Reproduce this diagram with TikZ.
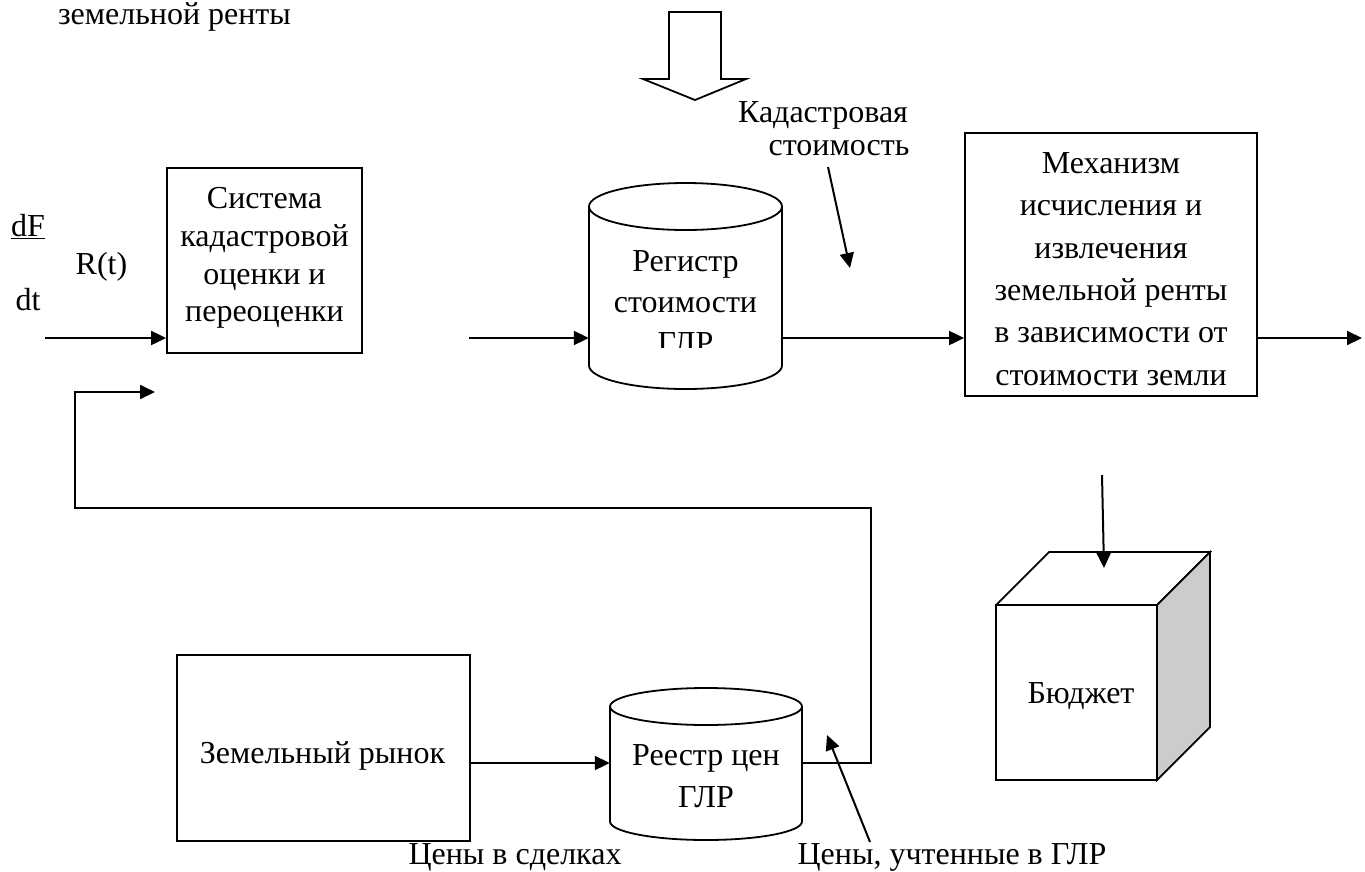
\documentclass[tikz,border=0pt]{standalone}
\usepackage{fontspec}
\setmainfont{Liberation Serif}
\usetikzlibrary{arrows.meta}
\begin{document}
\begin{tikzpicture}[x=1pt,y=-1pt,
  ln/.style={line width=1.8pt},
  arr/.style={line width=2pt,-{Triangle[length=15pt,width=14pt]}},
  boxnode/.style={draw,line width=1.8pt,inner sep=0pt},
  lbl/.style={font=\fontsize{32}{40}\selectfont,inner sep=0pt,align=center},
]
\useasboundingbox (0,0) rectangle (1365,871);

% top text
\node[lbl,anchor=base] (topt) at (174.5,24) {земельной ренты};

% hollow arrow
\draw[ln,line join=miter] (669,12) -- (721,12) -- (721,79) -- (746,79) -- (695,100) -- (643,79) -- (669,79) -- cycle;

% box 1
\node[boxnode,minimum width=195pt,minimum height=185pt] (sys) at (264.5,260.5) {};
\node[lbl,font=\fontsize{32}{37.7}\selectfont] (systxt) at (264.5,258) {Система\\кадастровой\\оценки и\\переоценки};

% box 3
\node[boxnode,minimum width=292pt,minimum height=263pt] (mech) at (1111,264.5) {};
\node[lbl,font=\fontsize{32}{42.4}\selectfont] (mechtxt) at (1111,269) {Механизм\\исчисления и\\извлечения\\земельной ренты\\в зависимости от\\стоимости земли};

% cylinder 1
\node[inner sep=0pt,minimum width=193pt,minimum height=206pt] (reg) at (685.5,286) {};
\draw[ln] (685.5,206.5) ellipse [x radius=96.5pt, y radius=23.5pt];
\draw[ln] (589,206.5) -- (589,365.5) arc[start angle=180,end angle=360,x radius=96.5pt,y radius=23.5pt] -- (782,206.5);
\begin{scope}
\clip (589,232) rectangle (782,347);
\node[lbl,font=\fontsize{32}{41}\selectfont] (regtxt) at (685.5,302.5) {Регистр\\стоимости\\ГЛР};
\end{scope}

% cylinder 2
\node[inner sep=0pt,minimum width=192pt,minimum height=152pt] (prc) at (706,764) {};
\draw[ln] (706,706.5) ellipse [x radius=96pt, y radius=18.5pt];
\draw[ln] (610,706.5) -- (610,821.5) arc[start angle=180,end angle=360,x radius=96pt,y radius=18.5pt] -- (802,706.5);
\node[lbl,font=\fontsize{32}{42}\selectfont] (prctxt) at (706,776) {Реестр цен\\ГЛР};

% market box
\node[boxnode,minimum width=293pt,minimum height=186pt] (mkt) at (323.5,748) {};
\node[lbl,anchor=base] (mkttxt) at (322.5,763) {Земельный рынок};

% cube
\draw[ln] (996,605) rectangle (1157,780);
\draw[ln,line join=miter] (996,605) -- (1049,552) -- (1210,552) -- (1157,605);
\draw[ln,fill=gray!40,line join=miter] (1157,605) -- (1210,552) -- (1210,727) -- (1157,780) -- cycle;
\node[inner sep=0pt,minimum width=161pt,minimum height=175pt] (bud) at (1076.5,692.5) {};
\node[lbl,anchor=base] (budtxt) at (1081,703) {Бюджет};

% labels
\node[lbl,anchor=base] (df) at (28,236) {\underline{dF}};
\node[lbl,anchor=base] (dt) at (28,310) {dt};
\node[lbl,anchor=base] (rt) at (101.5,274) {R(t)};
\node[lbl,anchor=base] (kad1) at (823,122) {Кадастровая};
\node[lbl,anchor=base] (kad2) at (839,155) {стоимость};
\node[lbl,anchor=base] (cs) at (515,864) {Цены в сделках};
\node[lbl,anchor=base] (cu) at (952,864) {Цены, учтенные в ГЛР};

% coordinates
\coordinate (in0) at (45,338);
\coordinate (a1s) at (469,338);
\coordinate (outE) at (1362,338);
\coordinate (mk) at (0,763);
\coordinate (kadS) at (828,167);
\coordinate (kadE) at (850,268);
\coordinate (budS) at (1102,475);
\coordinate (budE) at (1104,568);
\coordinate (cuS) at (870,842);
\coordinate (cuE) at (827,735);
\coordinate (fbA) at (871,763);
\coordinate (fbB) at (75,508);
\coordinate (fbE) at (155,392);

% connectors
\draw[arr] (in0) -- (in0 -| sys.west);
\draw[arr] (a1s) -- (a1s -| reg.west);
\draw[arr] (reg.east |- a1s) -- (a1s -| mech.west);
\draw[arr] (mech.east |- a1s) -- (outE);
\draw[arr] (mkt.east |- mk) -- (prc.west |- mk);
\draw[arr] (kadS) -- (kadE);
\draw[arr] (budS) -- (budE);
\draw[arr] (cuS) -- (cuE);
\draw[arr,line join=miter] (prc.east |- mk) -- (fbA) |- (fbB) |- (fbE);
\end{tikzpicture}
\end{document}
